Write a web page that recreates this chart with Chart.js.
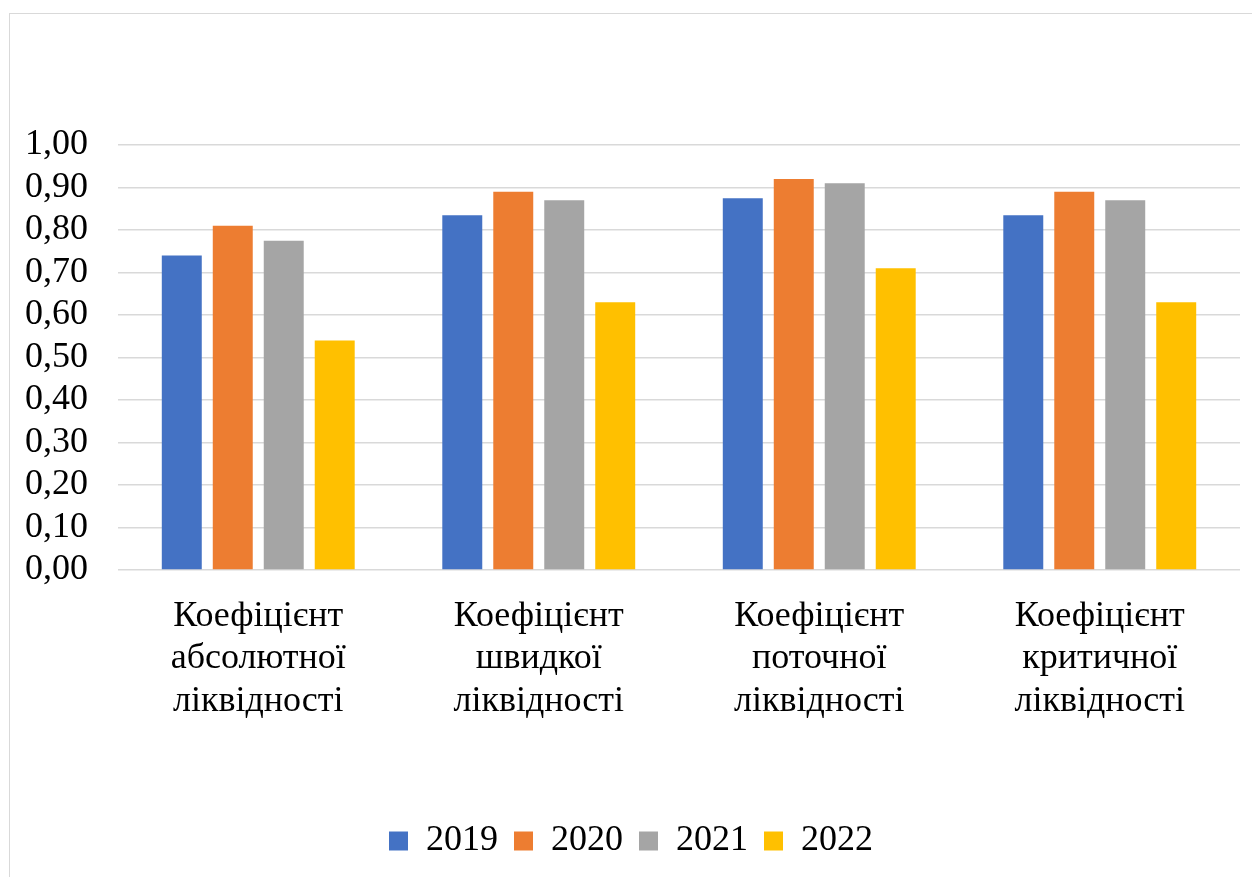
<!DOCTYPE html>
<html>
<head>
<meta charset="utf-8">
<script src="https://cdn.jsdelivr.net/npm/chart.js@4"></script>
<style>
  html, body { margin: 0; padding: 0; background: #fff; overflow: hidden; }
  #frame { position: absolute; left: 9px; top: 13px; width: 1260px; height: 900px; border: 1px solid #d9d9d9; }
  #grafico { position: absolute; left: 0; top: 0; }
</style>
</head>
<body>
<div id="frame"></div>
<canvas id="grafico" width="1252" height="877"></canvas>
<script>
// ===== DADOS =====
const categorias = [
    ['Коефіцієнт', 'абсолютної', 'ліквідності'],
    ['Коефіцієнт', 'швидкої', 'ліквідності'],
    ['Коефіцієнт', 'поточної', 'ліквідності'],
    ['Коефіцієнт', 'критичної', 'ліквідності']
];
const anos = ['2019', '2020', '2021', '2022'];
const valores2019 = [0.74, 0.835, 0.875, 0.835];
const valores2020 = [0.81, 0.89, 0.92, 0.89];
const valores2021 = [0.775, 0.87, 0.91, 0.87];
const valores2022 = [0.54, 0.63, 0.71, 0.63];
const cores = ['#4472C4', '#ED7D31', '#A5A5A5', '#FFC000'];

Chart.defaults.font.family = 'Liberation Serif';
Chart.defaults.font.size = 36;
Chart.defaults.color = '#000';

// ===== GRAFICO =====
new Chart(document.getElementById("grafico").getContext("2d"), {
    type: 'bar',
    data: {
        labels: categorias,
        datasets: [valores2019, valores2020, valores2021, valores2022].map((v, i) => ({
            label: anos[i],
            data: v,
            backgroundColor: cores[i],
            categoryPercentage: 0.727,
            barPercentage: 0.784
        }))
    },
    options: {
        responsive: false,
        animation: false,
        devicePixelRatio: 1,
        layout: { padding: { left: 22, right: 12, top: 145, bottom: 8 } },
        plugins: {
            legend: {
                position: 'bottom',
                labels: { boxWidth: 19, boxHeight: 19, padding: 16 }
            },
            tooltip: { enabled: false }
        },
        scales: {
            x: {
                grid: { display: false, drawTicks: false },
                border: { display: false },
                ticks: { font: { lineHeight: 1.18 }, padding: 25, maxRotation: 0 },
                afterFit: s => { s.height = 237; }
            },
            y: {
                min: 0, max: 1,
                grid: { color: '#d9d9d9', lineWidth: 1.5, drawTicks: false },
                border: { display: false },
                ticks: {
                    stepSize: 0.1, padding: 30, autoSkip: false,
                    callback: v => v.toFixed(2).replace('.', ',') // vírgula decimal
                },
                afterFit: s => { s.width = 96; }
            }
        }
    }
});
</script>
</body>
</html>
